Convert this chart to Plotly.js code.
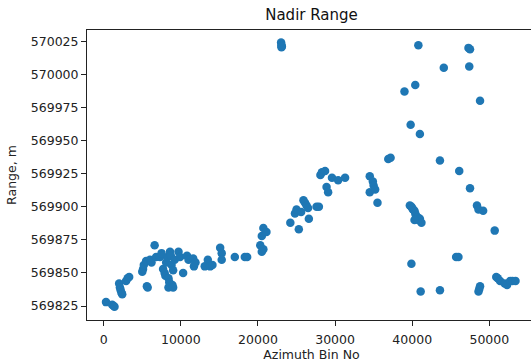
<!DOCTYPE html>
<html>
<head>
<meta charset="utf-8">
<script src="https://cdn.plot.ly/plotly-3.0.1.min.js"></script>
<style>
html, body { margin: 0; padding: 0; overflow: hidden; background: #fff; }
#chart { width: 540px; height: 362px; }
</style>
</head>
<body>
<div id="chart"></div>
<script>
// Azimuth bin numbers and nadir ranges
const azimuthBin = [
  300, 1100, 1300, 1400,
  2000, 2100, 2200, 2300, 2400, 2900, 3100, 3300,
  5000, 5100, 5200, 5500, 5600, 5700, 6000, 6200, 6600, 6800, 7300, 7500, 7700, 7900, 8000, 8100, 8300, 8400, 8400, 8500, 8600, 8700, 8800, 8900, 9000, 9000, 9200, 9700, 9900, 10300, 10800, 11000, 11600, 11700, 11900,
  13100, 13500, 13800, 14100, 15100, 15300, 15300, 17000, 18300, 18600, 20300, 20700, 20500, 20500, 20700, 21100,
  23000, 23050, 23050, 23100,
  24200, 24800, 25000, 25300, 25600, 25900, 26100, 26300, 26500, 26600, 27600, 27900, 28100, 28300, 28700, 28900, 29100, 29600, 30400, 31300,
  34500, 34900, 35000, 34500, 35200, 35500, 36900, 37200,
  39700, 39900, 40000, 40100, 40300, 40400, 40500, 40700, 40800, 41000, 41200, 40300,
  39900, 41100, 39000, 40400, 39800, 41000, 40800,
  43600, 43600, 44100, 45700, 46000, 46100, 47300, 47500, 47400, 47500, 48400, 48600, 49200, 48800, 48600, 48700, 48800,
  50700, 50900, 51100, 51400, 52000, 52300, 52700, 53000, 53400
];
const rangeM = [
  569828, 569826, 569825, 569824.5,
  569842, 569839, 569837, 569835, 569834, 569844, 569846, 569847,
  569851, 569853, 569856, 569859, 569840, 569839, 569860, 569858, 569871, 569862, 569862, 569865, 569853, 569850, 569848, 569858, 569862, 569846, 569839, 569843, 569866, 569863, 569856, 569841, 569839, 569852, 569860, 569866, 569862, 569850, 569863, 569860, 569861, 569855, 569858,
  569855, 569860, 569855, 569856, 569869, 569865, 569860, 569862, 569862, 569862, 569871, 569868, 569866, 569878, 569884, 569881,
  570024, 570022, 570020.5, 570021,
  569888, 569895, 569898, 569883, 569896, 569905, 569903, 569901, 569899, 569891, 569900, 569900, 569924, 569926, 569927, 569915, 569911, 569922, 569920, 569922,
  569923, 569919, 569916, 569911, 569913, 569903, 569936, 569937,
  569901, 569900, 569899, 569898, 569897, 569895, 569893, 569892, 569890, 569891, 569888, 569890,
  569857, 569836, 569987, 569992, 569962, 569955, 570022,
  569837, 569935, 570005, 569862, 569862, 569927, 570020, 570019, 570006, 569914, 569901, 569898, 569897, 569980, 569836, 569838, 569840,
  569882, 569847, 569846, 569844, 569842, 569841, 569844, 569844, 569844
];
const xTicks = [0, 10000, 20000, 30000, 40000, 50000];
const yTicks = [569825, 569850, 569875, 569900, 569925, 569950, 569975, 570000, 570025];

const trace = {
  type: 'scatter',
  mode: 'markers',
  x: azimuthBin,
  y: rangeM,
  marker: { color: '#1f77b4', size: 8.5, line: { width: 0 } },
  hoverinfo: 'x+y'
};

const tickFont = { family: 'DejaVu Sans, sans-serif', size: 12.5, color: '#222' };

const layout = {
  width: 540,
  height: 362,
  autosize: false,
  margin: { l: 87, r: 4, t: 30, b: 42, pad: 0 },
  paper_bgcolor: '#ffffff',
  plot_bgcolor: '#ffffff',
  showlegend: false,
  title: {
    text: 'Nadir Range',
    font: { family: 'DejaVu Sans, sans-serif', size: 15, color: '#111' },
    x: 0.5, xref: 'paper', xanchor: 'center',
    y: 1 - 15 / 362, yref: 'container', yanchor: 'middle'
  },
  xaxis: {
    range: [-2167, 56055],
    tickmode: 'array',
    tickvals: xTicks,
    ticktext: xTicks.map(String),
    ticks: 'outside', ticklen: 5, tickwidth: 1, tickcolor: '#222',
    ticklabelstandoff: 3,
    showgrid: false, zeroline: false,
    showline: true, linecolor: '#222', linewidth: 1, mirror: true,
    tickfont: tickFont,
    automargin: false,
    title: { text: 'Azimuth Bin No', font: tickFont, standoff: 4 }
  },
  yaxis: {
    range: [569814.5, 570033.5],
    tickmode: 'array',
    tickvals: yTicks,
    ticktext: yTicks.map(String),
    ticks: 'outside', ticklen: 5, tickwidth: 1, tickcolor: '#222',
    showgrid: false, zeroline: false,
    showline: true, linecolor: '#222', linewidth: 1, mirror: true,
    tickfont: tickFont,
    automargin: false,
    title: { text: 'Range, m', font: tickFont, standoff: 11 }
  }
};

Plotly.newPlot('chart', [trace], layout, { displayModeBar: false, staticPlot: true });
</script>
</body>
</html>
